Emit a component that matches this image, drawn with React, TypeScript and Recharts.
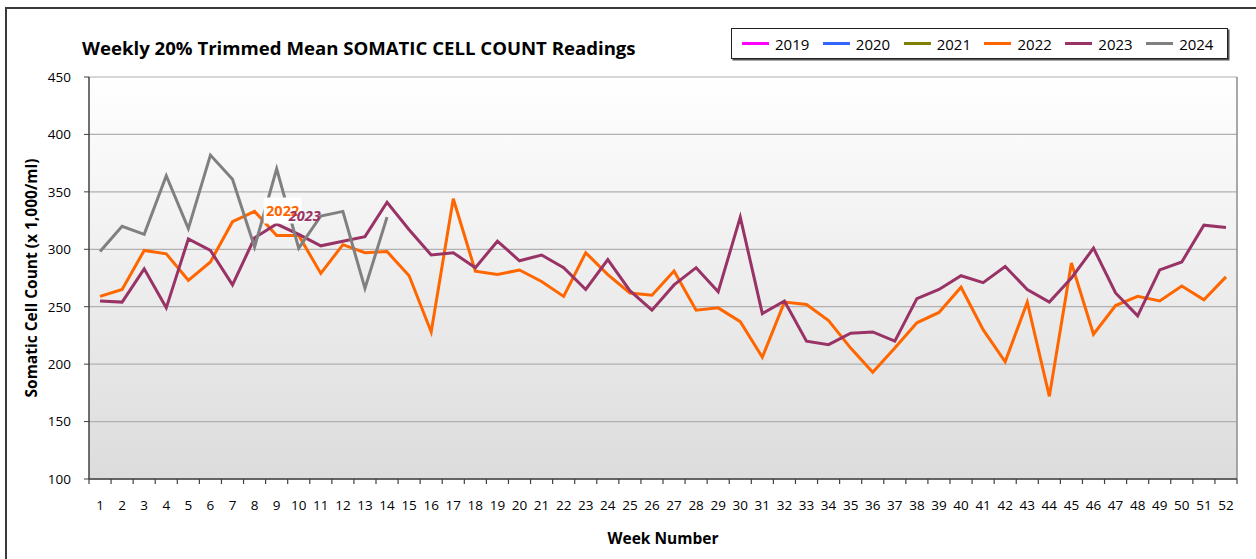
import React from 'react';
import { LineChart, Line, XAxis, YAxis, CartesianGrid, Legend, LabelList, ReferenceLine, Label } from 'recharts';

const FONT = "'Open Sans', 'DejaVu Sans', sans-serif";

const weeks: number[] = [1, 2, 3, 4, 5, 6, 7, 8, 9, 10, 11, 12, 13, 14, 15, 16, 17, 18, 19, 20, 21, 22, 23, 24, 25, 26, 27, 28, 29, 30, 31, 32, 33, 34, 35, 36, 37, 38, 39, 40, 41, 42, 43, 44, 45, 46, 47, 48, 49, 50, 51, 52];

const series2019: (number | null)[] = [];
const series2020: (number | null)[] = [];
const series2021: (number | null)[] = [];
const series2022: number[] = [259, 265, 299, 296, 273, 289, 324, 333, 312, 312, 279, 304, 297, 298, 277, 228, 344, 281, 278, 282, 272, 259, 297, 278, 262, 260, 281, 247, 249, 237, 206, 254, 252, 238, 214, 193, 214, 236, 245, 267, 230, 202, 254, 172, 288, 226, 251, 259, 255, 268, 256, 276];
const series2023: number[] = [255, 254, 283, 249, 309, 299, 269, 310, 322, 313, 303, 307, 311, 341, 317, 295, 297, 284, 307, 290, 295, 284, 265, 291, 264, 247, 269, 284, 263, 328, 244, 255, 220, 217, 227, 228, 220, 257, 265, 277, 271, 285, 265, 254, 275, 301, 262, 242, 282, 289, 321, 319];
const series2024: number[] = [298, 320, 313, 364, 318, 382, 361, 302, 370, 301, 329, 333, 266, 328];

const yTicks: number[] = [100, 150, 200, 250, 300, 350, 400, 450];
const labelWeek = 9;

const seriesNames = ['2019', '2020', '2021', '2022', '2023', '2024'];
const seriesColors = ['#FF00FF', '#3366FF', '#808000', '#FF6600', '#993366', '#808080'];

const data = weeks.map((w, i) => ({
  week: w,
  y2019: series2019[i] ?? null,
  y2020: series2020[i] ?? null,
  y2021: series2021[i] ?? null,
  y2022: series2022[i] ?? null,
  y2023: series2023[i] ?? null,
  y2024: series2024[i] ?? null,
  tag2022: w === labelWeek ? '2022' : null,
  tag2023: w === labelWeek ? '2023' : null,
}));

const xTicks: number[] = [...weeks.map((w) => w - 0.5), 52.5, ...weeks].sort((a, b) => a - b);

const XTick = (props: any) => {
  const { x, y, payload } = props;
  const v = payload.value;
  if (v % 1 !== 0) {
    return <line x1={x} x2={x} y1={y} y2={y + 5} stroke="#404040" strokeWidth={1.2} />;
  }
  return (
    <text x={x} y={y + 21} dy="0.71em" textAnchor="middle" fill="#000" fontSize={13.5} fontFamily={FONT}>
      {v}
    </text>
  );
};

const renderLegend = (props: any) => {
  const payload = (props.payload || []).filter((p: any) => p.type !== 'none' && seriesNames.includes(String(p.value)));
  return (
    <div
      style={{
        width: 497,
        height: 31,
        boxSizing: 'border-box',
        border: '1px solid #222',
        boxShadow: '1.5px 1.5px 0 #555',
        background: '#fff',
        display: 'flex',
        alignItems: 'center',
        paddingLeft: 10,
        fontFamily: FONT,
      }}
    >
      {payload.map((p: any) => (
        <div key={p.value} style={{ width: 81.6, display: 'flex', alignItems: 'center' }}>
          <span style={{ display: 'inline-block', width: 27, height: 3, background: p.color, marginRight: 6 }} />
          <span style={{ fontSize: 15, color: '#000', lineHeight: '20px' }}>{p.value}</span>
        </div>
      ))}
    </div>
  );
};

const renderLabel2022 = (props: any) => {
  const { x, y, value } = props;
  if (!value) return null;
  return (
    <g>
      <rect x={x - 13} y={y - 38} width={38} height={26} fill="#FFFFFF" />
      <text x={x + 6} y={y - 25} textAnchor="middle" dominantBaseline="central" fill="#FF6600" fontWeight={700} fontSize={14.5} fontFamily={FONT}>
        {value}
      </text>
    </g>
  );
};

const renderLabel2023 = (props: any) => {
  const { x, y, value } = props;
  if (!value) return null;
  return (
    <text x={x + 28} y={y - 9} textAnchor="middle" dominantBaseline="central" fill="#993366" fontWeight={700} fontStyle="italic" fontSize={14.5} fontFamily={FONT}>
      {value}
    </text>
  );
};

const renderYTitle = (props: any) => {
  const vb = props.viewBox || { x: 0, y: 77, width: 89, height: 402 };
  const cx = 31;
  const cy = vb.y + vb.height / 2;
  return (
    <text x={cx} y={cy} transform={`rotate(-90 ${cx} ${cy})`} textAnchor="middle" dominantBaseline="central" fontWeight={700} fontSize={15.5} fontFamily={FONT} fill="#000">
      Somatic Cell Count (x 1,000/ml)
    </text>
  );
};

const renderXTitle = (props: any) => {
  const vb = props.viewBox || { x: 89, y: 479, width: 1148, height: 30 };
  const cx = vb.x + vb.width / 2;
  const cy = vb.y + 59;
  return (
    <text x={cx} y={cy} textAnchor="middle" dominantBaseline="central" fontWeight={700} fontSize={15.5} fontFamily={FONT} fill="#000">
      Week Number
    </text>
  );
};

export default function App() {
  return (
    <div style={{ position: 'absolute', left: 0, top: 0, width: 1256, height: 559, overflow: 'hidden', background: '#fff' }}>
      <div style={{ position: 'absolute', left: 5, top: 7, width: 1300, height: 600, border: '2px solid #3a3a3a', boxSizing: 'border-box' }} />
      <div
        style={{
          position: 'absolute',
          left: 82,
          top: 36,
          fontFamily: FONT,
          fontWeight: 700,
          fontSize: 18.6,
          lineHeight: '24px',
          color: '#000',
          whiteSpace: 'nowrap',
          zIndex: 2,
        }}
      >
        Weekly 20% Trimmed Mean SOMATIC CELL COUNT Readings
      </div>
      <div style={{ position: 'absolute', left: 0, top: 0 }}>
        <LineChart width={1256} height={559} data={data} margin={{ top: 77, right: 19, bottom: 50, left: 0 }}>
          <defs>
            <linearGradient id="plotBg" x1="0" y1="0" x2="0" y2="1">
              <stop offset="0%" stopColor="#FFFFFF" />
              <stop offset="100%" stopColor="#DCDCDC" />
            </linearGradient>
          </defs>
          <CartesianGrid vertical={false} stroke="#B0B0B0" strokeWidth={1.2} fill="url(#plotBg)" />
          <XAxis
            type="number"
            dataKey="week"
            domain={[0.5, 52.5]}
            ticks={xTicks}
            interval={0}
            tick={<XTick />}
            tickLine={false}
            tickSize={0}
            tickMargin={0}
            axisLine={{ stroke: '#404040', strokeWidth: 1.5 }}
            height={30}
          >
            <Label content={renderXTitle} />
          </XAxis>
          <YAxis
            type="number"
            domain={[100, 450]}
            ticks={yTicks}
            interval={0}
            width={89}
            tickSize={5}
            tickMargin={13}
            tickLine={{ stroke: '#404040' }}
            axisLine={{ stroke: '#404040', strokeWidth: 1.5 }}
            tick={{ fill: '#000', fontSize: 13.5, fontFamily: FONT }}
          >
            <Label content={renderYTitle} />
          </YAxis>
          <ReferenceLine x={52.5} stroke="#8C8C8C" strokeWidth={1.5} />
          {seriesNames.map((name, i) => (
            <Line
              key={name}
              name={name}
              type="linear"
              dataKey={`y${name}`}
              stroke={seriesColors[i]}
              strokeWidth={3}
              dot={false}
              activeDot={false}
              isAnimationActive={false}
            />
          ))}
          <Line dataKey="y2022" stroke="none" legendType="none" dot={false} activeDot={false} isAnimationActive={false}>
            <LabelList dataKey="tag2022" content={renderLabel2022} />
          </Line>
          <Line dataKey="y2023" stroke="none" legendType="none" dot={false} activeDot={false} isAnimationActive={false}>
            <LabelList dataKey="tag2023" content={renderLabel2023} />
          </Line>
          <Legend
            layout="horizontal"
            verticalAlign="middle"
            align="center"
            content={renderLegend}
            wrapperStyle={{ position: 'absolute', left: 731, top: 28, right: 'auto', bottom: 'auto', width: 497, height: 31 }}
          />
        </LineChart>
      </div>
    </div>
  );
}
